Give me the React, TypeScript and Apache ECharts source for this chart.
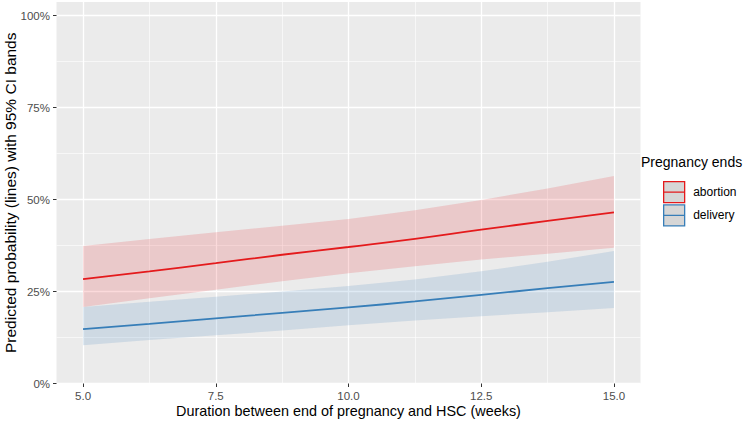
import React, { useEffect, useRef } from "react";
import * as echarts from "echarts";

const xValues = [5, 6.25, 7.5, 8.75, 10, 11.25, 12.5, 13.75, 15];

const abortionFit = [0.284, 0.305, 0.327, 0.350, 0.371, 0.393, 0.418, 0.442, 0.465];
const abortionUpper = [0.374, 0.393, 0.411, 0.429, 0.447, 0.471, 0.499, 0.530, 0.564];
const abortionLower = [0.208, 0.232, 0.255, 0.278, 0.300, 0.319, 0.337, 0.353, 0.369];

const deliveryFit = [0.148, 0.162, 0.177, 0.192, 0.207, 0.223, 0.241, 0.259, 0.276];
const deliveryUpper = [0.208, 0.222, 0.236, 0.250, 0.265, 0.283, 0.305, 0.331, 0.360];
const deliveryLower = [0.104, 0.118, 0.131, 0.144, 0.158, 0.171, 0.183, 0.194, 0.205];

const xMajorTicks = [5, 7.5, 10, 12.5, 15];
const xMinorTicks = [6.25, 8.75, 11.25, 13.75];
const yMajorTicks = [0, 0.25, 0.5, 0.75, 1];
const yMinorTicks = [0.125, 0.375, 0.625, 0.875];

const groups = ["abortion", "delivery"];

const RED = "#E41A1C";
const BLUE = "#377EB8";
const FONT = "'Liberation Sans', Arial, Helvetica, sans-serif";

const pairs = (ys: number[]) => xValues.map((x, i) => [x, ys[i]]);
const triples = (lo: number[], hi: number[]) => xValues.map((x, i) => [x, lo[i], hi[i]]);

export default function App() {
  const ref = useRef<HTMLDivElement>(null);

  useEffect(() => {
    document.body.style.margin = "0";
    if (!ref.current) return;
    const chart = echarts.init(ref.current, null, { renderer: "svg" });

    const bandSeries = (name: string, lo: number[], hi: number[], color: string) => {
      const data = triples(lo, hi);
      return {
        name: name + "_band",
        type: "custom",
        silent: true,
        z: 1,
        data,
        encode: { x: 0, y: [1, 2] },
        renderItem: (params: any, api: any) => {
          if (params.dataIndex !== 0) return null;
          const upperPts = data.map((d) => api.coord([d[0], d[2]]));
          const lowerPts = data.map((d) => api.coord([d[0], d[1]])).reverse();
          return {
            type: "polygon",
            shape: { points: upperPts.concat(lowerPts) },
            style: { fill: color, opacity: 0.16 },
          };
        },
      };
    };

    const majorLine = { show: true, lineStyle: { color: "#FFFFFF", width: 1.3 } };
    const minorLine = { show: true, lineStyle: { color: "#FFFFFF", width: 0.6 } };

    chart.setOption({
      animation: false,
      textStyle: { fontFamily: FONT },
      title: {
        text: "Pregnancy ends",
        left: 641,
        top: 155,
        padding: 0,
        textStyle: { fontSize: 14, fontWeight: "normal", color: "#000000", fontFamily: FONT },
      },
      legend: {
        orient: "vertical",
        left: 663,
        top: 181,
        padding: 0,
        itemWidth: 22,
        itemHeight: 21,
        itemGap: 1,
        selectedMode: false,
        icon: "path://M0,0L22,0L22,22L0,22ZM0,11L22,11",
        textStyle: { fontSize: 12, color: "#000000", fontFamily: FONT, padding: [0, 0, 0, 3] },
        data: [
          {
            name: groups[0],
            itemStyle: { color: "#D6D6D6", borderColor: RED, borderWidth: 1.3 },
          },
          {
            name: groups[1],
            itemStyle: { color: "#D6D6D6", borderColor: BLUE, borderWidth: 1.3 },
          },
        ],
      },
      grid: {
        left: 56.5,
        right: 109.5,
        top: 2,
        bottom: 38.5,
        show: true,
        backgroundColor: "#EBEBEB",
        borderWidth: 0,
        containLabel: false,
        outerBoundsMode: "none",
      },
      xAxis: [
        {
          type: "value",
          min: 4.5,
          max: 15.5,
          name: "Duration between end of pregnancy and HSC (weeks)",
          nameLocation: "middle",
          nameGap: 20,
          nameMoveOverlap: false,
          nameTextStyle: { fontSize: 14.4, color: "#000000", fontFamily: FONT },
          axisLine: { show: false },
          axisTick: {
            show: true,
            length: 3.5,
            customValues: xMajorTicks,
            lineStyle: { color: "#333333", width: 1 },
          },
          axisLabel: {
            customValues: xMajorTicks,
            margin: 6,
            fontSize: 11.5,
            color: "#4D4D4D",
            fontFamily: FONT,
            formatter: (v: number) => v.toFixed(1),
          },
          splitLine: majorLine,
        },
        {
          type: "value",
          min: 4.5,
          max: 15.5,
          position: "bottom",
          axisLine: { show: false },
          axisTick: { show: false, customValues: xMinorTicks },
          axisLabel: { show: false, customValues: xMinorTicks },
          splitLine: minorLine,
        },
      ],
      yAxis: [
        {
          type: "value",
          min: 0,
          max: 1.037,
          name: "Predicted probability (lines) with 95% CI bands",
          nameLocation: "middle",
          nameRotate: 90,
          nameGap: 38.5,
          nameMoveOverlap: false,
          nameTextStyle: { fontSize: 15.5, color: "#000000", fontFamily: FONT },
          axisLine: { show: false },
          axisTick: {
            show: true,
            length: 3.5,
            customValues: yMajorTicks,
            lineStyle: { color: "#333333", width: 1 },
          },
          axisLabel: {
            customValues: yMajorTicks,
            margin: 6.5,
            fontSize: 11.5,
            color: "#4D4D4D",
            fontFamily: FONT,
            formatter: (v: number) => Math.round(v * 100) + "%",
          },
          splitLine: majorLine,
        },
        {
          type: "value",
          min: 0,
          max: 1.037,
          position: "left",
          axisLine: { show: false },
          axisTick: { show: false, customValues: yMinorTicks },
          axisLabel: { show: false, customValues: yMinorTicks },
          splitLine: minorLine,
        },
      ],
      series: [
        bandSeries("abortion", abortionLower, abortionUpper, RED),
        bandSeries("delivery", deliveryLower, deliveryUpper, BLUE),
        {
          name: groups[0],
          type: "line",
          data: pairs(abortionFit),
          symbol: "none",
          smooth: true,
          lineStyle: { color: RED, width: 1.8 },
          itemStyle: { color: RED },
          z: 3,
        },
        {
          name: groups[1],
          type: "line",
          data: pairs(deliveryFit),
          symbol: "none",
          smooth: true,
          lineStyle: { color: BLUE, width: 1.8 },
          itemStyle: { color: BLUE },
          z: 3,
        },
      ],
    });

    return () => chart.dispose();
  }, []);

  return <div ref={ref} style={{ width: 750, height: 422 }} />;
}
